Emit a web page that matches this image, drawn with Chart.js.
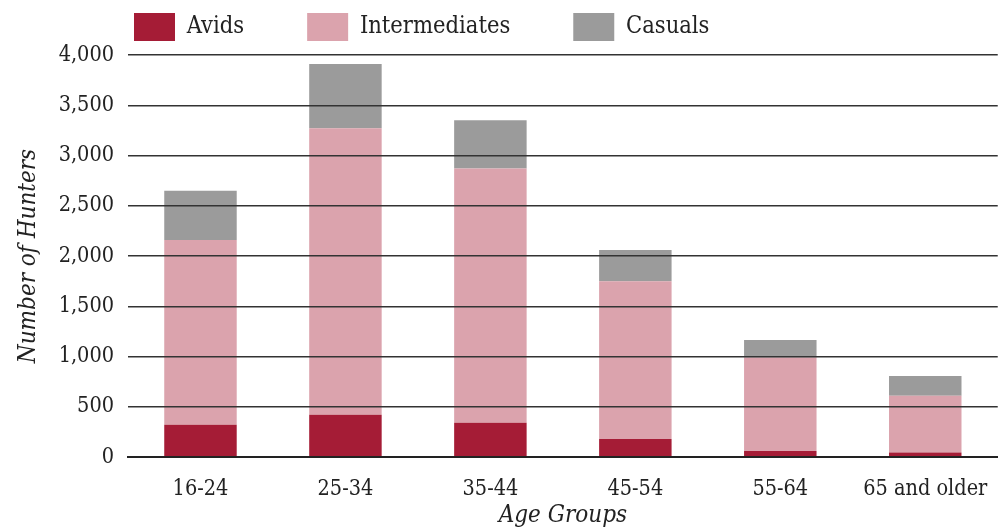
<!DOCTYPE html>
<html>
<head>
<meta charset="utf-8">
<script src="https://cdn.jsdelivr.net/npm/chart.js@4/dist/chart.umd.min.js"></script>
<style>
  html, body { margin: 0; padding: 0; background: #fff; }
  #wrap { width: 1008px; height: 529px; }
</style>
</head>
<body>
<div id="wrap"><canvas id="hunters"></canvas></div>
<script>
var ageGroups = ["16-24", "25-34", "35-44", "45-54", "55-64", "65 and older"];
var avids = [320, 420, 340, 180, 60, 45];
var intermediates = [1840, 2850, 2530, 1570, 930, 565];
var casuals = [490, 640, 480, 310, 175, 195];
var yTicks = [0, 500, 1000, 1500, 2000, 2500, 3000, 3500, 4000];

var FONT = '"DejaVu Serif Condensed", "DejaVu Serif", "Liberation Serif", serif';
var LEGEND_GAP = 63;

// legend sits left of centre and close to the top, with wide gaps between items
var legendPlace = {
    id: 'legendPlace',
    beforeDraw: function (chart) {
        if (chart.legend) {
            chart.legend.left = 134 - LEGEND_GAP;
            chart.legend.top = 13 - LEGEND_GAP;
        }
    }
};

new Chart(document.getElementById("hunters"), {
    type: 'bar',
    data: {
        labels: ageGroups,
        datasets: [
            { label: "Avids", data: avids, backgroundColor: "#A51C36" },
            { label: "Intermediates", data: intermediates, backgroundColor: "#DBA3AD" },
            { label: "Casuals", data: casuals, backgroundColor: "#9B9B9B" }
        ]
    },
    plugins: [legendPlace],
    options: {
        responsive: true,
        maintainAspectRatio: false,
        animation: false,
        layout: { padding: { top: 0, right: 8, bottom: 0, left: 0 } },
        plugins: {
            legend: {
                display: true,
                position: 'top',
                align: 'start',
                maxHeight: 55,
                labels: {
                    boxWidth: 41,
                    boxHeight: 28,
                    padding: LEGEND_GAP,
                    color: '#222',
                    font: { family: FONT, size: 23.5 }
                }
            },
            tooltip: { enabled: false }
        },
        datasets: {
            bar: { barPercentage: 0.5, categoryPercentage: 1.0 }
        },
        scales: {
            x: {
                stacked: true,
                afterFit: function (scale) { scale.height = 72; },
                grid: { display: false, drawTicks: false },
                border: { display: true, color: '#222', width: 2, z: 2 },
                ticks: { color: '#222', padding: 20, font: { family: FONT, size: 21.5 } },
                title: {
                    display: true,
                    text: 'Age Groups',
                    color: '#222',
                    padding: { top: 0, bottom: -1 },
                    font: { family: FONT, size: 24, style: 'italic' }
                }
            },
            y: {
                stacked: true,
                min: 0,
                max: 4000,
                afterFit: function (scale) { scale.width = 128; },
                afterBuildTicks: function (scale) {
                    scale.ticks = yTicks.map(function (v) { return { value: v }; });
                },
                grid: { color: '#333', lineWidth: 1.4, drawTicks: false, z: 1 },
                border: { display: false },
                ticks: { color: '#222', padding: 14, font: { family: FONT, size: 21.5 } },
                title: {
                    display: true,
                    text: 'Number of Hunters',
                    color: '#222',
                    padding: { top: 14, bottom: 0 },
                    font: { family: FONT, size: 24, style: 'italic' }
                }
            }
        }
    }
});
</script>
</body>
</html>
